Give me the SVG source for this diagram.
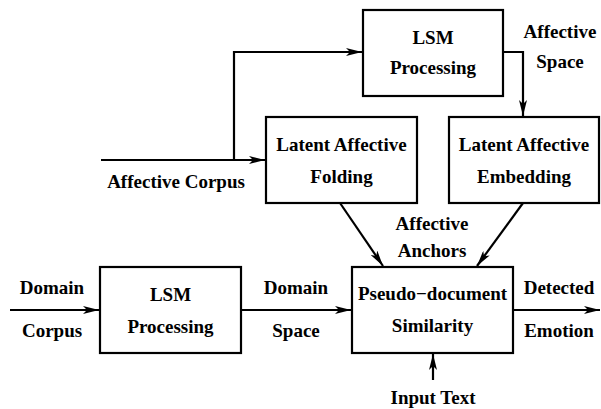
<svg xmlns="http://www.w3.org/2000/svg" width="601" height="409" viewBox="0 0 601 409">
<style>
text{font-family:'Liberation Serif','Times New Roman','DejaVu Serif',serif;font-weight:bold;font-size:19px;fill:#000;text-anchor:middle}
.box{fill:#fff;stroke:#000;stroke-width:2.2}
.ln{fill:none;stroke:#000;stroke-width:2.2}
</style>
<defs>
<marker id="ah" viewBox="0 0 16 8" refX="16" refY="4" markerWidth="16" markerHeight="8" markerUnits="userSpaceOnUse" orient="auto">
<path d="M0,0 L16,4 L0,8 L4,4 Z" fill="#000"/>
</marker>
</defs>
<g id="connectors">
<path class="ln" d="M101,160 H265" marker-end="url(#ah)"/>
<path class="ln" d="M234,160 V52 H362" marker-end="url(#ah)"/>
<path class="ln" d="M503,52 H523 V116" marker-end="url(#ah)"/>
<path class="ln" d="M340,203 L383,266" marker-end="url(#ah)"/>
<path class="ln" d="M523,203 L477,266" marker-end="url(#ah)"/>
<path class="ln" d="M10,310 H99" marker-end="url(#ah)"/>
<path class="ln" d="M241,310 H351" marker-end="url(#ah)"/>
<path class="ln" d="M513,310 H600" marker-end="url(#ah)"/>
<path class="ln" d="M433,380 V354" marker-end="url(#ah)"/>
</g>
<g id="lsm-top">
<rect class="box" x="363" y="10" width="140" height="86"/>
<text x="433" y="43.5">LSM</text>
<text x="433" y="74">Processing</text>
</g>
<g id="folding">
<rect class="box" x="266" y="117" width="151" height="86"/>
<text x="341.5" y="151">Latent Affective</text>
<text x="341.5" y="183">Folding</text>
</g>
<g id="embedding">
<rect class="box" x="449" y="117" width="150" height="86"/>
<text x="524" y="151">Latent Affective</text>
<text x="524" y="183">Embedding</text>
</g>
<g id="lsm-bottom">
<rect class="box" x="100" y="267" width="141" height="86"/>
<text x="170.5" y="300.5">LSM</text>
<text x="170.5" y="332.5">Processing</text>
</g>
<g id="pseudo">
<rect class="box" x="352" y="267" width="161" height="86"/>
<text x="432.5" y="300">Pseudo−document</text>
<text x="432.5" y="332">Similarity</text>
</g>
<g id="labels">
<text x="176" y="188">Affective Corpus</text>
<text x="560" y="37.5">Affective</text>
<text x="560" y="68">Space</text>
<text x="432" y="230">Affective</text>
<text x="432" y="257">Anchors</text>
<text x="52" y="294">Domain</text>
<text x="52" y="337">Corpus</text>
<text x="296" y="294">Domain</text>
<text x="296" y="337">Space</text>
<text x="559" y="294">Detected</text>
<text x="559" y="337">Emotion</text>
<text x="433" y="404">Input Text</text>
</g>
</svg>
